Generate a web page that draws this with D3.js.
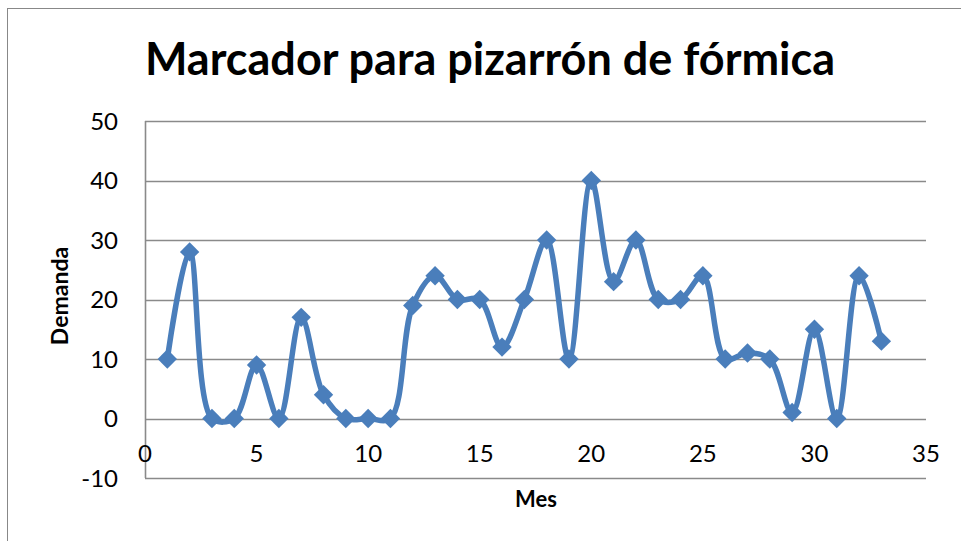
<!DOCTYPE html>
<html><head><meta charset="utf-8">
<script src="https://cdn.jsdelivr.net/npm/d3@7"></script>
<style>body{margin:0;background:#fff}svg{display:block}</style>
</head><body>
<svg id="c" width="961" height="541"></svg>
<script>
const meses = [1,2,3,4,5,6,7,8,9,10,11,12,13,14,15,16,17,18,19,20,21,22,23,24,25,26,27,28,29,30,31,32,33];
const demanda = [10,28,0,0,9,0,17,4,0,0,0,19,24,20,20,12,20,30,10,40,23,30,20,20,24,10,11,10,1,15,0,24,13];
const xTicks = [0,5,10,15,20,25,30,35];
const yTicks = [-10,0,10,20,30,40,50];
const title = "Marcador para pizarrón de fórmica";
const xTitle = "Mes", yTitle = "Demanda";

const svg = d3.select("#c");
const font = "Lato, 'Open Sans', sans-serif";
// outer border
svg.append("rect").attr("x",7.5).attr("y",8.5).attr("width",1000).attr("height",600)
  .attr("fill","none").attr("stroke","#888").attr("stroke-width",1);

const x = d3.scaleLinear().domain([0,35]).range([145,926]);
const y = d3.scaleLinear().domain([-10,50]).range([478,121]);

// gridlines
svg.append("g").selectAll("line").data(yTicks).join("line")
  .attr("x1",x(0)).attr("x2",x(35)).attr("y1",d=>Math.round(y(d))+0.5).attr("y2",d=>Math.round(y(d))+0.5)
  .attr("stroke","#8a8a8a").attr("stroke-width",1.6);
// y axis line
svg.append("line").attr("x1",x(0)+0.5).attr("x2",x(0)+0.5).attr("y1",y(50)).attr("y2",y(-10))
  .attr("stroke","#8a8a8a").attr("stroke-width",1.6);

// y tick labels
svg.append("g").selectAll("text").data(yTicks).join("text")
  .attr("x",118).attr("y",d=>y(d)).attr("dy","0.36em").attr("text-anchor","end")
  .attr("font-family",font).attr("font-size",24).attr("fill","#000").text(d=>d);
// x tick labels
svg.append("g").selectAll("text").data(xTicks).join("text")
  .attr("x",d=>x(d)).attr("y",y(0)+43).attr("text-anchor","middle")
  .attr("font-family",font).attr("font-size",24).attr("fill","#000").text(d=>d);

// titles
svg.append("text").attr("x",490).attr("y",75).attr("text-anchor","middle")
  .attr("font-family",font).attr("font-weight","bold").attr("font-size",45).text(title);
svg.append("text").attr("x",536).attr("y",507).attr("text-anchor","middle")
  .attr("font-family",font).attr("font-weight","bold").attr("font-size",22).text(xTitle);
svg.append("text").attr("transform","translate(68,296) rotate(-90)").attr("text-anchor","middle")
  .attr("font-family",font).attr("font-weight","bold").attr("font-size",23).text(yTitle);

const pts = meses.map((m,i)=>[m,demanda[i]]);
const line = d3.line().x(d=>x(d[0])).y(d=>y(d[1])).curve(d3.curveCatmullRom.alpha(0.5));
svg.append("path").attr("d",line(pts)).attr("fill","none").attr("stroke","#4A7EBB")
  .attr("stroke-width",5.5).attr("stroke-linejoin","round").attr("stroke-linecap","round");

const sym = d3.symbol().type(d3.symbolDiamond2).size(240);
svg.append("g").selectAll("path").data(pts).join("path")
  .attr("transform",d=>`translate(${x(d[0])},${y(d[1])})`).attr("d",sym).attr("fill","#4A7EBB");
</script>
</body></html>
